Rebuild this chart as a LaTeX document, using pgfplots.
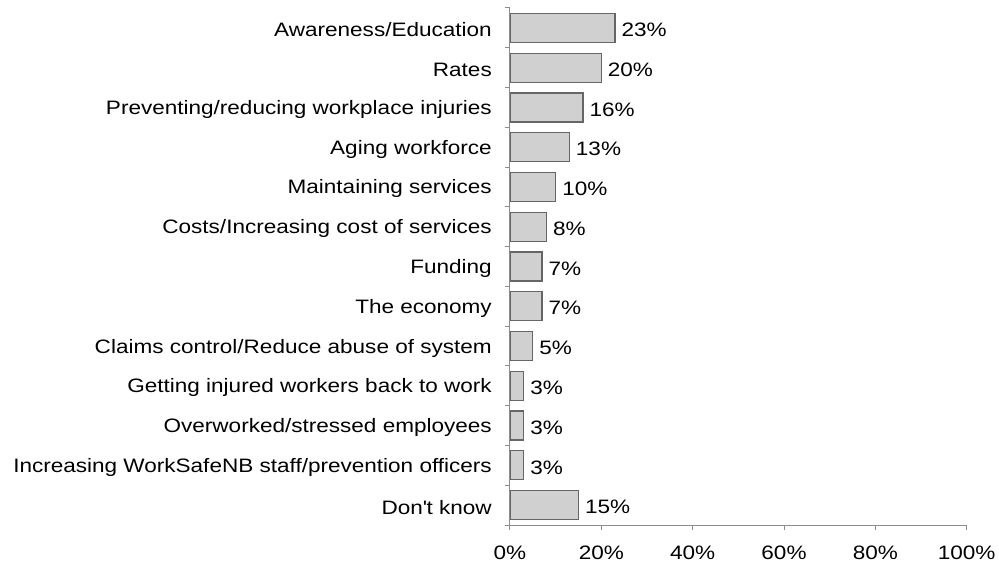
\documentclass[border=0pt]{standalone}
\usepackage{pgfplots}
\pgfplotsset{compat=1.18}
\usepackage{fontspec}
\setmainfont{Liberation Sans}[FakeStretch=1.16]
\definecolor{barfill}{HTML}{D0D0D0}
\definecolor{bardraw}{HTML}{666666}
\definecolor{axgray}{HTML}{8C8C8C}
\begin{document}
\begin{tikzpicture}[x=1bp,y=1bp]
\path[use as bounding box] (-510,-40) rectangle (489,525);
\begin{axis}[
  at={(0,0)}, anchor=south west,
  scale only axis, width=456.7bp, height=517bp,
  xbar, bar width=0.73,
  xmin=0, xmax=100,
  ymin=-0.5, ymax=12.5, y dir=reverse,
  axis x line*=bottom, axis y line*=left,
  axis line style={draw=axgray, line width=1bp, -},
  xtick={0,20,40,60,80,100},
  xticklabels={0\%,20\%,40\%,60\%,80\%,100\%},
  tick align=outside, major tick length=5bp,
  x tick style={draw=axgray, line width=1bp},
  y tick style={draw=none},
  ytick={0,...,12},
  yticklabels={Awareness/Education, Rates, Preventing/reducing workplace injuries, Aging workforce, Maintaining services, Costs/Increasing cost of services, Funding, The economy, Claims control/Reduce abuse of system, Getting injured workers back to work, Overworked/stressed employees, Increasing WorkSafeNB staff/prevention officers, Don\textquotesingle t know},
  extra y ticks={-0.5,0.5,...,12.5},
  extra y tick labels={},
  extra y tick style={y tick style={draw=axgray, line width=1bp}},
  ticklabel style={font=\fontsize{19.5}{22}\selectfont, text=black},
  yticklabel style={inner sep=0pt, xshift=-13bp, yshift=-2bp},
  xticklabel style={inner sep=0pt, yshift=-16bp},
  /pgf/number format/assume math mode=true,
  nodes near coords={\pgfmathprintnumber{\pgfplotspointmeta}\%},
  nodes near coords style={font=\fontsize{19.5}{22}\selectfont, anchor=west, inner sep=0pt, xshift=6bp, yshift=-2bp, text=black},
]
\addplot[fill=barfill, draw=bardraw, line width=1.2bp] coordinates {
(23,0) (20,1) (16,2) (13,3) (10,4) (8,5) (7,6) (7,7) (5,8) (3,9) (3,10) (3,11) (15,12)};
\end{axis}
\end{tikzpicture}
\end{document}
